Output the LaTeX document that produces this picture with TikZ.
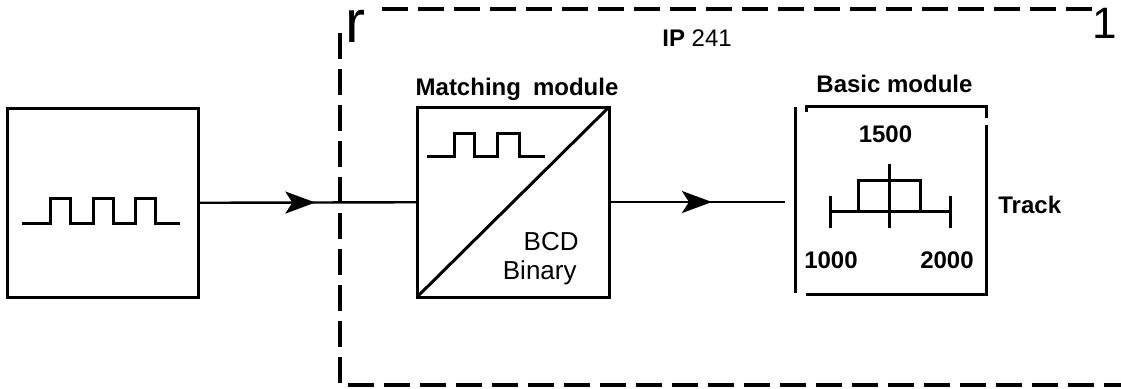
\documentclass[tikz,border=0pt]{standalone}
\usepackage{fontspec}
\setmainfont{Liberation Sans}
\usetikzlibrary{positioning, arrows.meta, decorations.markings}

\begin{document}
\begin{tikzpicture}[
  x=0.5pt, y=-0.5pt,
  box/.style={draw, line width=1.5pt, inner sep=0pt, outer sep=0pt,
    minimum width=95.5pt, minimum height=94.5pt},
  hollow/.style={box, draw=none},
  lbl/.style={font=\fontsize{12}{14}\selectfont\bfseries, inner sep=0pt},
  num/.style={lbl},
  plain/.style={font=\fontsize{13}{15}\selectfont, inner sep=0pt},
  corner/.style={font=\fontsize{#1}{#1}\selectfont, inner sep=0pt},
  wave/.style={line width=1.5pt},
  frame/.style={line width=1.8pt, dash pattern=on 13pt off 5pt},
  arrow/.style={line width=1.2pt, postaction={decorate},
    decoration={markings, mark=at position #1 with
      {\arrow{Stealth[length=15pt, width=11pt, inset=3.5pt]}}}},
]
  \useasboundingbox (0,0) rectangle (1121,388);

  % dashed frame of the IP 241
  \draw[frame] (382,9) -- (1093,9);
  \draw[frame] (340,33) -- (340,385) -- (1121,385);
  \node[corner=30, anchor=base west] (cnrl) at (345,42) {r};
  \node[corner=22, anchor=base east] (cnrr) at (1117,38) {1};
  \node[plain, font=\fontsize{12}{14}\selectfont, anchor=base west] (ip) at (662,46) {\textbf{IP} 241};

  % pulse source
  \node[box] (src) at (102.5,203) {};
  \draw[wave] (22,223) -- (50,223) -- (50,198) -- (70,198) -- (70,223)
    -- (93,223) -- (93,198) -- (113,198) -- (113,223)
    -- (135,223) -- (135,198) -- (155,198) -- (155,223) -- (180,223);

  % matching module
  \node[box, minimum width=96pt, minimum height=95pt] (conv) at (513,202) {};
  \draw[line width=1.5pt] (conv.south west) -- (conv.north east);
  \draw[wave] (427,156) -- (454,156) -- (454,133) -- (474,133) -- (474,156)
    -- (497,156) -- (497,133) -- (519,133) -- (519,156) -- (545,156);
  \node[plain, anchor=base east] (bcd) at (579,250) {BCD};
  \node[plain, anchor=base east] (bin) at (577,279) {Binary};
  \node[lbl, above=3pt of conv, xshift=2pt] (convlbl) {Matching\hspace{0.5em}module};

  % basic module
  \node[hollow, minimum height=94pt] (basic) at (890.5,200) {};
  \draw[line width=1.5pt] (795,107) -- (795,293);
  \draw[line width=1.5pt] (806,112) -- (806,106) -- (986,106) -- (986,118);
  \draw[line width=1.5pt] (986,125) -- (986,294) -- (806,294);
  \draw[line width=1.5pt] (830,211) -- (950,211)
    (830,196) -- (830,228) (950,196) -- (950,228) (889,164) -- (889,228);
  \draw[line width=1.5pt] (858,211) -- (858,180) -- (920,180) -- (920,211);
  \node[num, anchor=base] (mid) at (885.5,142) {1500};
  \node[num, anchor=base] (lo) at (831,268) {1000};
  \node[num, anchor=base] (hi) at (947,268) {2000};
  \node[lbl, anchor=base west] (track) at (998,213) {Track};
  \node[lbl, above=6.5pt of basic, xshift=2pt] (basiclbl) {Basic module};

  % signal path
  \coordinate (stop) at (785,202);
  \draw[arrow=0.536] (src) -- (conv);
  \draw[arrow=0.585] (conv) -- (stop);
\end{tikzpicture}
\end{document}
